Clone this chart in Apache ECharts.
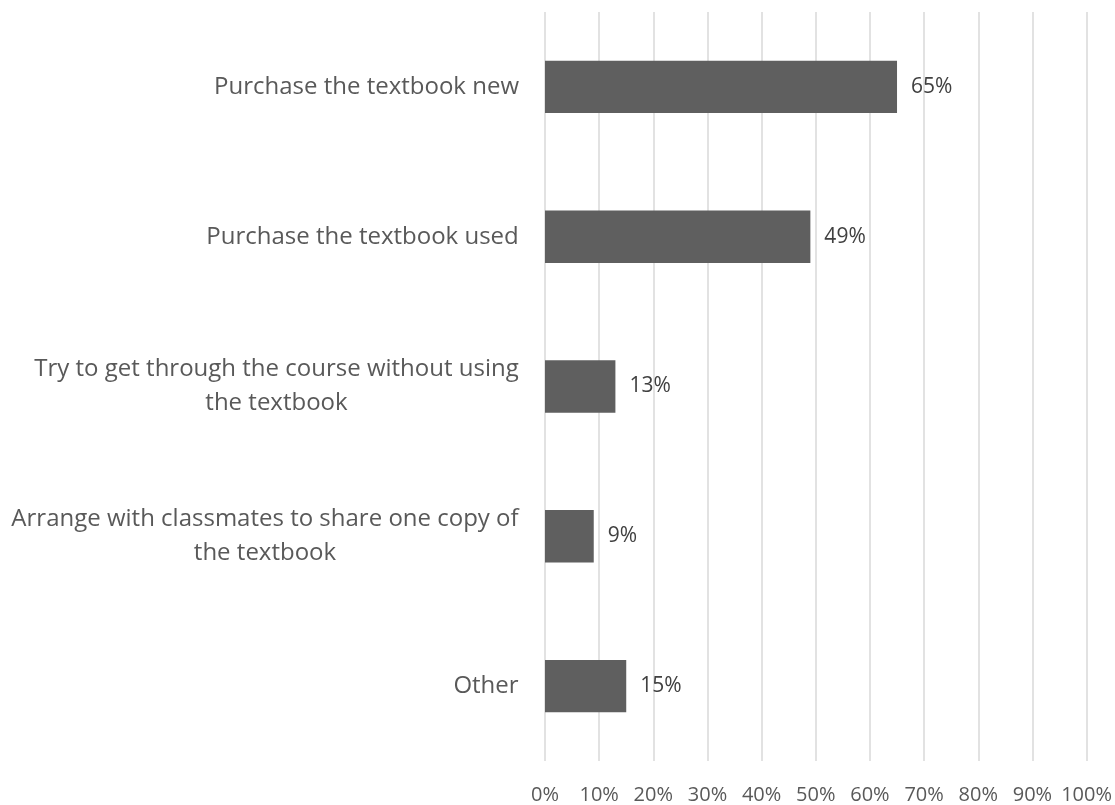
<!DOCTYPE html>
<html>
<head>
<meta charset="utf-8">
<style>
  html, body { margin: 0; padding: 0; background: #ffffff; }
  #chart { width: 1115px; height: 805px; }
</style>
<script src="https://cdn.jsdelivr.net/npm/echarts@6/dist/echarts.min.js"></script>
</head>
<body>
<div id="chart"></div>
<script>
// Survey answers (top to bottom) and the share of respondents, in percent
const categories = [
  'Purchase the textbook new',
  'Purchase the textbook used',
  'Try to get through the course without using the textbook',
  'Arrange with classmates to share one copy of the textbook',
  'Other'
];
const shares = [65, 49, 13, 9, 15];

// Percentage axis
const axisMin = 0;
const axisMax = 100;
const axisStep = 10;

const FONT = '"Open Sans", "Segoe UI", sans-serif';
const CAT_SIZE = 24;
const CAT_COLOR = '#595959';
const WRAP_WIDTH = 525;

// Word-wrap a category name and centre its lines inside a box as wide as its longest line
const measureCtx = document.createElement('canvas').getContext('2d');
measureCtx.font = CAT_SIZE + 'px ' + FONT;
function wrap(text) {
  const words = text.split(' ');
  const lines = [];
  let cur = '';
  words.forEach(w => {
    const test = cur ? cur + ' ' + w : w;
    if (cur && measureCtx.measureText(test).width > WRAP_WIDTH) {
      lines.push(cur);
      cur = w;
    } else {
      cur = test;
    }
  });
  if (cur) lines.push(cur);
  return lines;
}
const rich = {};
const labelText = {};
categories.forEach((c, i) => {
  const lines = wrap(c);
  const w = Math.ceil(Math.max(...lines.map(l => measureCtx.measureText(l).width)));
  const key = 'c' + i;
  rich[key] = {
    width: w,
    align: 'center',
    fontFamily: FONT,
    fontSize: CAT_SIZE,
    color: CAT_COLOR,
    lineHeight: 34
  };
  labelText[c] = lines.map(l => '{' + key + '|' + l + '}').join('\n');
});

const chart = echarts.init(document.getElementById('chart'), null, { renderer: 'canvas' });
chart.setOption({
  animation: false,
  backgroundColor: '#ffffff',
  grid: { left: 545, right: 28, top: 12, bottom: 41, containLabel: false },
  xAxis: {
    type: 'value',
    min: axisMin,
    max: axisMax,
    interval: axisStep,
    axisLine: { show: false },
    axisTick: { show: false },
    splitLine: { show: true, lineStyle: { color: '#d9d9d9', width: 1.5 } },
    axisLabel: {
      formatter: '{value}%',
      color: '#595959',
      fontFamily: FONT,
      fontSize: 20,
      margin: 24
    }
  },
  yAxis: {
    type: 'category',
    inverse: true,
    data: categories,
    axisLine: { show: false },
    axisTick: { show: false },
    splitLine: { show: false },
    axisLabel: {
      margin: 26,
      formatter: value => labelText[value],
      rich: rich
    }
  },
  series: [{
    type: 'bar',
    data: shares,
    barWidth: '35%',
    itemStyle: { color: '#5f5f5f' },
    label: {
      show: true,
      position: 'right',
      distance: 14,
      formatter: '{c}%',
      color: '#404040',
      fontFamily: FONT,
      fontSize: 21
    }
  }]
});
</script>
</body>
</html>
